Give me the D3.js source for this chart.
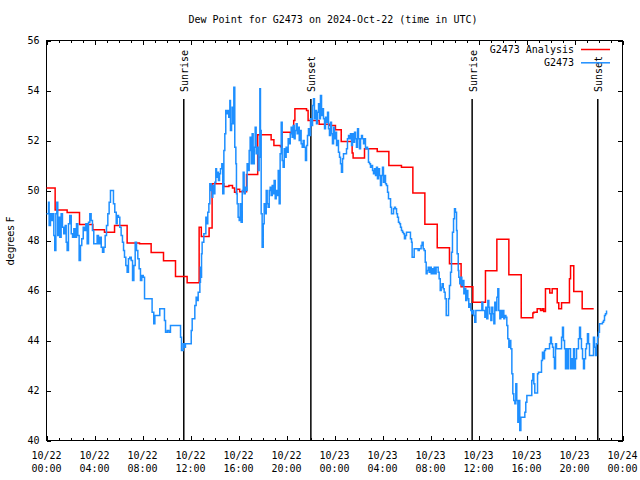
<!DOCTYPE html>
<html><head><meta charset="utf-8">
<script src="https://cdn.jsdelivr.net/npm/d3@7/dist/d3.min.js"></script>
<style>
body{margin:0;background:#fff}
svg{display:block}
text{font-family:"DejaVu Sans Mono",monospace;font-size:10px;fill:#000}
</style>
</head><body><svg id="c" width="640" height="480"></svg>
<script>
const title = "Dew Point for G2473 on 2024-Oct-22 (time in UTC)";
const yLabel = "degrees F";
const yTicks = [40,42,44,46,48,50,52,54,56];
const xTickHours = [0,4,8,12,16,20,24,28,32,36,40,44,48];
const xTickDates = ["10/22","10/22","10/22","10/22","10/22","10/22","10/23","10/23","10/23","10/23","10/23","10/23","10/24"];
const xTickTimes = ["00:00","04:00","08:00","12:00","16:00","20:00","00:00","04:00","08:00","12:00","16:00","20:00","00:00"];
const sunNames = ["Sunrise","Sunset","Sunrise","Sunset"];
const sunHours = [11.44, 22.03, 35.47, 45.94];
const seriesNames = ["G2473 Analysis","G2473"];

const analysisHours = [0,0.72,1.72,2.75,3.86,4.83,5.67,6.72,7.75,8.72,9.75,10.75,11.72,12.72,12.9,13.55,13.8,14.78,15.2,15.5,15.67,15.85,16.1,16.67,17.6,18.72,18.95,19.5,19.64,20.6,20.7,21.67,21.8,22.72,23.6,24.08,24.56,25.47,25.55,26.5,27.56,28.53,29.58,30.53,31.53,32.56,33.58,34.55,35.53,36.58,37.53,38.53,39.56,40.53,40.61,40.89,41.17,41.31,41.44,41.58,41.94,42.14,42.56,42.69,42.92,43.58,43.67,43.94,44.64,45.6];
const analysisValues = [50.1,49.22,49.12,48.64,48.43,48.33,48.6,47.9,47.87,47.52,47.19,46.56,46.31,48.53,48.16,48.5,50.27,50.16,50.2,50.1,49.93,50.05,49.95,50.64,52.23,52.03,51.8,51.75,52.33,52.8,53.27,53.2,52.8,52.65,52.6,52.43,51.96,51.5,51.3,51.67,51.56,51.0,50.93,49.9,48.65,47.71,47.07,46.15,45.53,46.79,48.05,46.63,44.91,45.1,45.13,45.27,45.2,45.27,45.16,46.07,45.9,46.07,45.51,45.27,45.51,46.47,46.99,45.96,45.27,45.27];

const obsHours = [
0.0,0.17,0.22,0.33,0.42,0.5,0.61,0.69,0.78,0.86,0.94,1.03,1.11,1.22,1.33,1.44,1.56,1.64,1.72,1.83,1.94,2.06,2.17,2.28,2.39,2.5,2.61,2.72,2.83,2.94,3.06,3.17,3.28,3.39,3.5,3.61,3.72,3.83,3.94,4.22,4.33,4.44,4.56,4.67,4.78,4.89,5.0,5.11,5.22,5.33,5.58,5.69,5.81,5.89,6.0,6.11,6.22,6.33,6.42,6.5,6.61,6.72,6.83,6.94,7.06,7.17,7.28,7.39,7.5,7.61,7.72,7.83,7.94,8.06,
8.17,8.8,8.94,9.03,9.44,9.83,9.92,10.06,10.2,10.33,11.17,11.25,11.39,11.5,11.58,12.06,12.14,12.36,12.47,12.56,12.64,12.78,12.83,12.89,12.92,
12.97,13.11,13.28,13.36,13.44,13.53,13.61,13.72,13.81,13.86,13.94,14.03,14.11,14.17,14.25,14.33,14.42,14.5,14.61,14.69,14.78,14.86,14.94,15.03,15.11,15.19,15.28,15.33,15.42,15.47,15.53,15.61,15.69,15.78,15.83,15.89,15.97,16.06,16.14,16.22,16.31,16.39,16.47,16.56,16.64,16.72,16.81,16.89,16.97,17.06,17.14,17.22,17.31,17.39,17.47,17.56,17.64,17.72,17.78,17.83,17.89,17.97,18.06,18.14,18.22,18.31,18.39,18.47,18.56,18.64,18.72,18.81,18.89,18.97,19.06,19.14,19.22,19.31,19.39,19.47,19.56,19.64,19.72,19.81,19.89,19.97,20.06,20.14,20.22,20.31,20.39,20.47,20.56,20.64,20.72,20.81,20.89,20.97,21.06,21.14,21.22,21.31,21.39,21.47,
21.58,21.67,21.75,21.83,21.92,22.0,22.08,22.17,22.25,22.33,22.42,22.5,22.58,22.67,22.75,22.83,22.92,23.0,23.08,23.17,23.25,23.33,23.42,23.5,23.58,23.67,23.75,23.83,23.92,24.0,24.08,24.17,24.25,24.33,24.42,24.5,24.58,24.67,24.75,25.0,25.08,25.17,25.25,25.33,25.42,25.5,25.58,25.67,25.75,25.83,25.92,26.0,26.08,26.17,26.25,26.33,26.42,26.5,26.58,26.67,26.75,26.83,26.92,27.0,27.08,27.17,27.25,27.33,27.42,27.5,27.58,27.67,27.75,27.83,27.92,28.0,28.08,28.17,28.25,28.33,28.42,28.5,28.67,28.75,28.92,29.0,29.08,29.17,29.25,29.33,29.42,29.5,29.58,29.67,29.75,29.83,29.92,30.0,30.33,30.42,30.47,30.64,30.97,31.06,31.22,31.3,31.39,31.47,31.56,31.64,31.72,31.81,31.89,31.97,32.06,32.14,32.22,32.31,32.39,32.47,32.64,32.72,32.81,32.89,32.97,33.06,33.14,33.22,33.31,33.5,33.58,33.67,33.75,33.83,33.92,34.0,
34.08,34.17,34.22,34.31,34.36,34.44,34.53,34.61,34.69,34.78,34.86,34.94,35.03,35.11,35.19,35.28,35.36,35.44,35.53,35.61,35.69,35.78,36.28,36.36,36.53,36.61,36.69,36.78,36.86,36.94,37.03,37.11,37.19,37.28,37.36,37.44,37.53,37.61,37.69,37.78,37.86,37.94,38.03,38.11,38.19,38.28,38.36,38.44,38.53,38.61,38.69,38.78,38.86,38.94,39.03,39.11,39.19,39.28,39.36,39.44,39.53,39.86,39.94,40.03,40.44,40.53,40.61,40.69,40.92,41.0,41.25,41.33,41.42,41.5,41.58,41.92,42.0,42.08,42.17,42.25,42.33,42.42,42.5,42.92,43.0,43.08,43.17,43.25,43.33,43.42,43.5,43.67,43.75,43.83,43.92,44.0,44.08,44.17,44.33,44.42,44.5,44.58,44.67,44.75,44.83,44.92,45.0,45.08,45.17,45.25,45.58,45.67,45.75,45.83,45.92,46.0,46.08,46.33,46.42,46.5,46.58,46.67];
const obsValues = [
49.07,49.53,48.6,49.07,48.8,49.07,48.2,47.6,49.07,49.53,48.2,48.93,48.13,49.07,48.53,48.27,48.6,47.93,47.6,48.67,49.0,48.27,48.13,48.47,48.13,48.67,48.2,47.2,47.8,48.07,48.53,48.4,48.67,47.87,48.73,49.07,48.8,48.4,47.87,48.2,47.87,48.13,47.73,47.53,47.73,48.2,48.6,49.07,49.53,50.0,49.47,49.13,48.67,49.0,48.93,48.53,48.2,47.93,47.6,47.33,47.0,46.73,47.27,47.33,47.2,46.4,47.0,47.93,47.6,47.27,46.87,46.4,46.6,46.53,
45.67,45.13,44.67,45.0,45.27,44.8,44.33,44.4,44.33,44.6,44.13,43.6,43.87,43.73,43.87,44.4,44.87,45.4,45.73,45.6,45.93,46.33,46.93,46.53,47.47,
47.93,48.27,48.93,48.67,49.13,49.47,50.27,50.0,49.73,50.2,49.87,50.33,50.87,50.53,50.73,50.4,50.67,50.87,51.07,49.87,51.6,52.27,53.2,53.07,53.2,52.93,53.6,52.4,52.67,53.33,52.67,54.13,51.73,51.07,49.87,49.47,48.93,48.8,49.47,48.73,50.0,50.73,49.87,50.13,50.0,51.07,50.8,51.6,52.13,51.07,52.27,51.07,51.73,52.53,51.47,51.73,50.8,51.33,54.07,52.4,49.07,47.73,48.67,49.47,49.07,50.0,49.47,49.33,50.0,50.13,49.8,50.2,49.87,50.4,49.67,50.0,49.8,50.8,49.47,51.47,52.73,51.2,50.93,51.67,51.33,51.73,51.53,52.07,51.87,52.27,52.53,52.13,52.6,52.07,52.4,52.67,52.27,52.53,52.0,52.4,51.87,51.73,52.0,51.73,
51.2,51.8,52.2,52.47,52.2,52.87,52.6,53.4,53.67,52.87,53.2,52.67,53.13,53.47,52.87,53.8,53.0,53.27,52.87,52.47,52.93,52.73,53.13,52.47,52.2,52.73,52.27,51.87,52.53,52.07,52.33,51.8,52.0,51.53,51.33,51.07,50.73,51.27,51.47,51.67,52.07,52.2,52.07,52.27,51.8,52.27,51.93,52.33,52.07,51.73,52.47,52.07,51.67,52.07,52.2,52.07,51.87,52.07,51.67,51.73,51.67,51.13,51.07,50.93,51.0,50.8,50.67,50.87,50.6,50.93,50.47,50.87,50.6,50.2,50.6,50.93,50.33,50.6,50.27,50.2,49.93,49.67,49.33,49.07,49.27,49.33,49.27,49.07,48.93,48.73,48.67,48.53,48.4,48.33,48.27,48.07,48.2,48.33,48.07,47.93,47.33,47.67,47.6,47.67,47.8,47.93,47.67,47.6,47.13,46.67,46.8,46.93,46.73,46.93,46.67,46.87,46.67,46.93,46.67,46.93,46.73,46.47,46.0,46.13,46.27,46.07,45.93,45.67,45.0,45.67,46.2,46.73,47.53,48.33,48.87,49.27,
49.13,48.4,47.47,46.8,46.53,46.27,46.53,46.2,46.4,45.87,46.07,45.6,46.0,45.67,45.33,45.47,45.2,45.07,45.2,45.0,44.73,45.2,45.53,45.2,44.93,45.33,44.87,45.6,45.33,45.07,44.8,45.33,45.07,44.67,45.53,45.2,45.73,46.07,45.2,44.87,45.2,44.93,45.2,44.87,45.0,44.93,44.6,44.07,43.73,44.0,43.67,42.67,41.87,41.6,41.47,42.27,41.6,40.73,41.6,40.4,40.93,41.13,41.53,41.8,42.4,42.67,42.27,41.9,42.67,42.73,43.2,43.53,43.27,43.6,43.67,43.87,44.13,43.87,43.73,43.33,42.87,43.87,43.67,44.13,44.53,44.0,43.67,42.87,43.67,42.87,43.67,42.87,43.27,42.87,43.67,42.87,43.27,43.67,44.07,44.53,44.07,43.67,43.27,42.87,43.27,43.67,43.87,44.27,43.87,43.4,44.13,43.73,43.4,43.87,44.13,44.33,44.67,44.73,44.8,45.0,45.07,45.2];

const svg = d3.select("#c");
const L = 46.5, R = 622.5, T = 40.5, B = 440.5;
const x = d3.scaleLinear().domain([0,48]).range([L,R]);
const y = d3.scaleLinear().domain([40,56]).range([B,T]);

// title
svg.append("text").attr("x",333).attr("y",23).attr("text-anchor","middle").text(title);
// y label
svg.append("text").attr("transform","translate(14,241) rotate(-90)").attr("text-anchor","middle")
  .style("font-family","'DejaVu Sans',sans-serif").style("font-size","10px").text(yLabel);

const minorHours = d3.range(0,49,1);
function tickGroup(axis, tx, ty){
  const g = svg.append("g").attr("transform",`translate(${tx},${ty})`).call(axis);
  g.select(".domain").remove();
  g.selectAll("line").attr("stroke","#000").attr("stroke-width",1).attr("shape-rendering","crispEdges");
  g.selectAll("text").remove();
  return g;
}
tickGroup(d3.axisBottom(x).tickValues(minorHours).tickSize(-2.5).tickFormat(""),0,B);
tickGroup(d3.axisBottom(x).tickValues(xTickHours).tickSize(-4.5).tickFormat(""),0,B);
tickGroup(d3.axisTop(x).tickValues(minorHours).tickSize(-2.5).tickFormat(""),0,T);
tickGroup(d3.axisTop(x).tickValues(xTickHours).tickSize(-4.5).tickFormat(""),0,T);
tickGroup(d3.axisLeft(y).tickValues(yTicks).tickSize(-4.5).tickFormat(""),L,0);
tickGroup(d3.axisRight(y).tickValues(yTicks).tickSize(-4.5).tickFormat(""),R,0);

// tick labels
svg.append("g").selectAll("text").data(yTicks).join("text")
  .attr("x",39.5).attr("y",d=>y(d)+3.5).attr("text-anchor","end").text(d=>d);
const xl = svg.append("g").selectAll("g").data(xTickHours).join("g");
xl.append("text").attr("x",d=>x(d)).attr("y",458.5).attr("text-anchor","middle").text((d,i)=>xTickDates[i]);
xl.append("text").attr("x",d=>x(d)).attr("y",471.5).attr("text-anchor","middle").text((d,i)=>xTickTimes[i]);

// frame
svg.append("rect").attr("x",L).attr("y",T).attr("width",R-L).attr("height",B-T)
  .attr("fill","none").attr("stroke","#000").attr("stroke-width",1);

// sun lines
const sg = svg.append("g").selectAll("g").data(sunHours).join("g");
sg.append("line").attr("x1",d=>x(d)).attr("x2",d=>x(d)).attr("y1",B).attr("y2",99)
  .attr("stroke","#000").attr("stroke-width",1.5);
sg.append("text").attr("transform",d=>`translate(${x(d)+4.5},92) rotate(-90)`)
  .attr("text-anchor","start").text((d,i)=>sunNames[i]);

const line = d3.line().x(d=>x(d[0])).y(d=>y(d[1])).curve(d3.curveStepAfter);
const aData = analysisHours.map((h,i)=>[h,analysisValues[i]]);
const oData = obsHours.map((h,i)=>[h,obsValues[i]]);
svg.append("path").datum(aData).attr("d",line).attr("fill","none").attr("stroke","#ff0000").attr("stroke-width",1.5);
svg.append("path").datum(oData).attr("d",line).attr("fill","none").attr("stroke","#1e8fff").attr("stroke-width",1.5);

// legend
const colors = ["#ff0000","#1e8fff"];
const lg = svg.append("g").selectAll("g").data(seriesNames).join("g");
lg.append("text").attr("x",574).attr("y",(d,i)=>53+i*13.3).attr("text-anchor","end").text(d=>d);
lg.append("line").attr("x1",581).attr("x2",610).attr("y1",(d,i)=>49.5+i*13.3).attr("y2",(d,i)=>49.5+i*13.3)
  .attr("stroke",(d,i)=>colors[i]).attr("stroke-width",1.5);
</script>
</body></html>
